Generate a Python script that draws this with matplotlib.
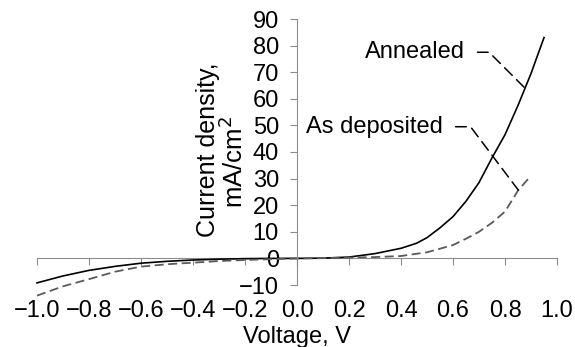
import matplotlib
matplotlib.use("Agg")
import matplotlib.pyplot as plt
import numpy as np

plt.rcParams["font.family"] = ["Liberation Sans", "DejaVu Sans"]

# ── J-V data ────────────────────────────────────────────────────────────
annealed_v = [-1.0, -0.9, -0.8, -0.7, -0.6, -0.5, -0.4, -0.3, -0.2, -0.1, 0.0,
              0.1, 0.2, 0.3, 0.4, 0.46, 0.5, 0.55, 0.6, 0.65, 0.7, 0.75, 0.8,
              0.85, 0.9, 0.95]
annealed_j = [-9.2, -6.6, -4.5, -3.0, -1.8, -1.1, -0.6, -0.3, -0.1, 0.0, 0.0,
              0.1, 0.5, 1.8, 3.8, 5.7, 7.8, 11.5, 15.7, 21.5, 28.5, 37.8, 46.5,
              57.5, 69.5, 83.0]

deposited_v = [-1.0, -0.9, -0.8, -0.7, -0.6, -0.5, -0.4, -0.3, -0.2, -0.1, 0.0,
               0.1, 0.2, 0.3, 0.4, 0.5, 0.6, 0.65, 0.7, 0.75, 0.8, 0.85, 0.89]
deposited_j = [-14.0, -10.5, -7.8, -5.0, -3.1, -2.2, -1.6, -1.0, -0.6, -0.3, 0.0,
               0.1, 0.3, 0.5, 0.9, 2.3, 5.0, 7.4, 10.0, 13.4, 17.6, 25.5, 30.0]

x_ticks = [-1.0, -0.8, -0.6, -0.4, -0.2, 0.0, 0.2, 0.4, 0.6, 0.8, 1.0]
y_ticks = [-10, 0, 10, 20, 30, 40, 50, 60, 70, 80, 90]

SPINE = "#8c8c8c"
FS = 17

fig = plt.figure(figsize=(5.75, 3.47), dpi=100)
ax = fig.add_axes([37 / 575, 62 / 347, 520 / 575, 266 / 347])

ax.plot(annealed_v, annealed_j, color="black", lw=1.2, clip_on=False)
ax.plot(deposited_v, deposited_j, color="#5a5a5a", lw=1.3,
        linestyle=(0, (5, 2.5)), clip_on=False)

ax.set_xlim(-1.0, 1.0)
ax.set_ylim(-10, 90)

# y axis crosses at V = 0
for s in ("top", "right", "bottom"):
    ax.spines[s].set_visible(False)
ax.spines["left"].set_position(("data", 0))
ax.spines["left"].set_color(SPINE)
ax.set_yticks(y_ticks)
ax.set_yticklabels([str(t).replace("-", "\u2212") for t in y_ticks])
ax.tick_params(axis="y", direction="out", length=5, color=SPINE,
               labelsize=FS, pad=8)

# x tick labels sit below the plot, the axis line itself sits at J = 0
ax.set_xticks(x_ticks)
ax.set_xticklabels([f"{t:.1f}".replace("-", "\u2212") for t in x_ticks])
ax.tick_params(axis="x", length=0, labelsize=FS, pad=11)

xaxis0 = ax.secondary_xaxis(0, transform=ax.transData)
xaxis0.set_xticks(x_ticks)
xaxis0.tick_params(axis="x", direction="out", length=5, color=SPINE,
                   labelbottom=False)
xaxis0.spines["bottom"].set_color(SPINE)

ax.set_xlabel("Voltage, V", fontsize=FS, labelpad=3)

ax.text(0.328, 0.507, "Current density,", rotation=90, fontsize=18,
        ha="center", va="center", transform=ax.transAxes)
ax.text(0.378, 0.462, "mA/cm$^2$", rotation=90, fontsize=18.5,
        ha="center", va="center", transform=ax.transAxes)

leader = dict(arrowstyle="-", color="black", lw=1.1, linestyle=(0, (7, 4)),
              shrinkA=7, shrinkB=0, relpos=(1.0, 0.5))
ax.annotate("Annealed", xy=(0.877, 64), xytext=(0.646, 77.5),
            ha="right", va="center", fontsize=FS,
            arrowprops=dict(connectionstyle="angle,angleA=0,angleB=135,rad=0",
                            **leader))
ax.annotate("As deposited", xy=(0.851, 25.7), xytext=(0.562, 49.5),
            ha="right", va="center", fontsize=FS,
            arrowprops=dict(connectionstyle="angle,angleA=0,angleB=127,rad=0",
                            **leader))

fig.savefig("out.png", dpi=100)
